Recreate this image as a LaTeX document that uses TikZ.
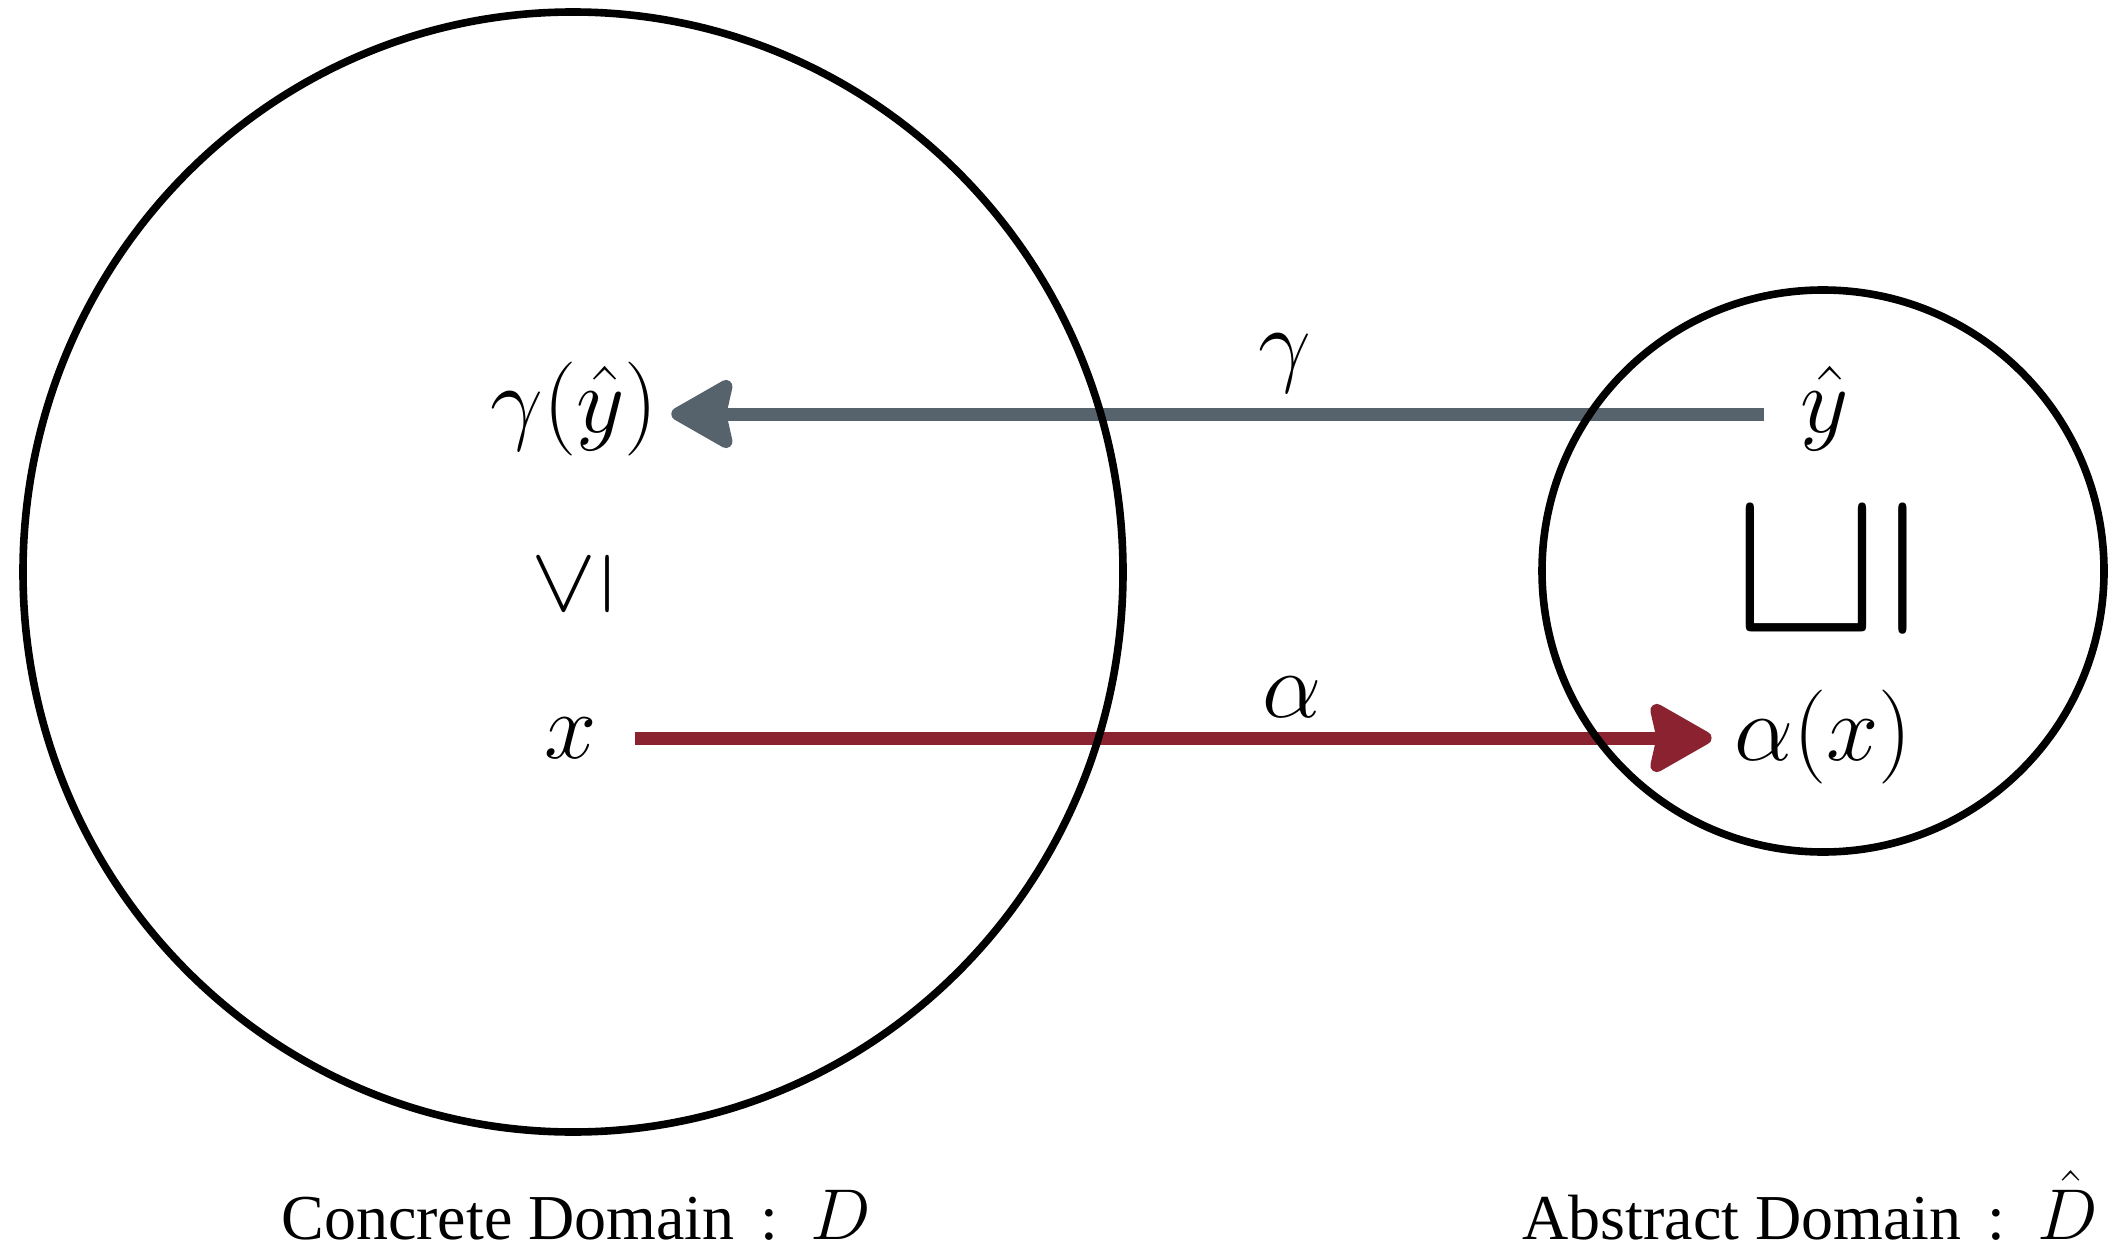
\RequirePackage{fix-cm}
\documentclass[tikz,border=0pt]{standalone}
\usepackage{fontspec}
\usepackage{graphicx}
\newfontfamily\labelfont{Liberation Serif}
\usetikzlibrary{arrows.meta,calc}
\definecolor{alphared}{HTML}{8A2230}
\definecolor{gammagray}{HTML}{56636C}
\begin{document}
\begin{tikzpicture}[x=0.5pt,y=-0.5pt,
  domainring/.style={draw=black, line width=3.8pt},
  mathlbl/.style={inner sep=0pt, font=\fontsize{47}{56}\selectfont},
  biglbl/.style={inner sep=0pt, font=\fontsize{104}{120}\selectfont},
  maplbl/.style={inner sep=0pt, anchor=base, font=\fontsize{47}{56}\selectfont},
  domainlbl/.style={inner sep=0pt, anchor=base, font=\labelfont\fontsize{32}{38}\selectfont},
  maparrow/.style={line width=6.5pt, line cap=butt,
    -{Stealth[length=35pt,width=39pt,inset=4pt,round]}},
]
\useasboundingbox (0,0) rectangle (2108,1246);

% math labels
\node[mathlbl, anchor=base] (gy) at (574,432) {$\gamma(\hat y)$};
\node[mathlbl] (le) at (573,584) {\rotatebox{90}{$\leq$}};
\node[mathlbl, anchor=base] (x) at (571,758) {$x$};
\node[mathlbl, anchor=base] (yh) at (1825,432) {$\hat y$};
\node[biglbl] (sq) at (1826,571) {\rotatebox{90}{$\sqsubseteq$}};
\node[mathlbl, anchor=base] (ax) at (1823,760) {$\alpha(x)$};

% arrows
\draw[maparrow, draw=gammagray, fill=gammagray]
  ($(yh.base west)+(-37,-18)$) -- ($(gy.base east)+(13,-18)$);
\draw[maparrow, draw=alphared, fill=alphared]
  ($(x.base east)+(37,-20)$) -- ($(ax.base west)+(-22,-22)$);

\node[maplbl] (glbl) at (1285,374) {$\gamma$};
\node[maplbl] (albl) at (1292,717) {$\alpha$};

% domains
\draw[domainring] (573,572) ellipse [x radius=550, y radius=560];
\draw[domainring] (1823,571) circle [radius=281];

% domain captions
\node[domainlbl] (cd) at (576,1239) {Concrete Domain\hspace{0.4em}:\hspace{0.5em}{\fontsize{36}{42}\selectfont$D$}};
\node[domainlbl, anchor=base east] (ad) at (2098,1239) {Abstract Domain\hspace{0.4em}:\hspace{0.5em}{\fontsize{36}{42}\selectfont$\hat D$}};
\end{tikzpicture}
\end{document}
